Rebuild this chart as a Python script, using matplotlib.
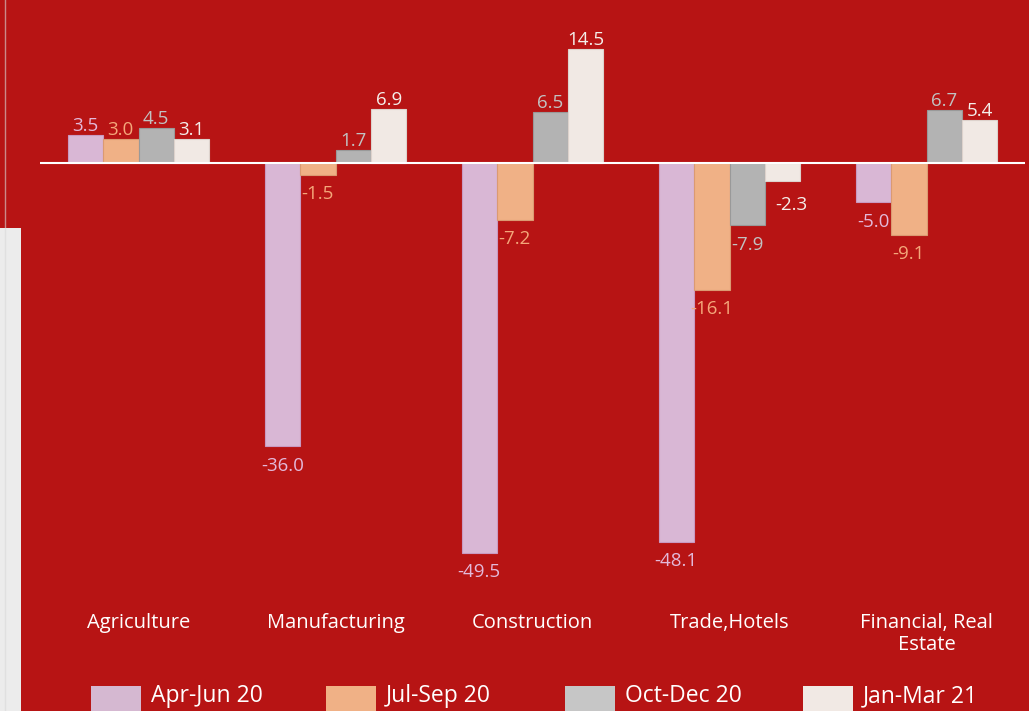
import numpy as np
import matplotlib.pyplot as plt
from matplotlib.patches import Rectangle

# Data
sectors = ["Agriculture", "Manufacturing", "Construction", "Trade,Hotels", "Financial, Real\nEstate"]
quarters = ["Apr-Jun 20", "Jul-Sep 20", "Oct-Dec 20", "Jan-Mar 21"]
apr_jun = [3.5, -36.0, -49.5, -48.1, -5.0]
jul_sep = [3.0, -1.5, -7.2, -16.1, -9.1]
oct_dec = [4.5, 1.7, 6.5, -7.9, 6.7]
jan_mar = [3.1, 6.9, 14.5, -2.3, 5.4]
series = [apr_jun, jul_sep, oct_dec, jan_mar]

BG = "#B71414"
colors = ["#D9B7D5", "#F0B186", "#B3B3B3", "#F1E9E4"]
edges = ["#C99AC2", "#DB9A72", "#999999", "#DDD2CC"]
legend_colors = ["#D5B8D1", "#F0B186", "#C6C6C6", "#F1E9E4"]
label_colors = ["#E3B9D9", "#F4A77A", "#C2C2C2", "#F4EEEA"]

plt.rcParams['font.family'] = ['Open Sans', 'DejaVu Sans']

fig = plt.figure(figsize=(10.29, 7.11), dpi=100, facecolor=BG)
ax = fig.add_axes([40 / 1029, 1 - 596 / 711, 985 / 1029, (596 - 21.3) / 711])
ax.set_facecolor(BG)

x = np.arange(len(sectors))
w = 0.18
for i, vals in enumerate(series):
    pos = x + (i - 1.5) * w
    ax.bar(pos, vals, width=w, color=colors[i], edgecolor=edges[i], linewidth=0.8, zorder=2)
    for px, v in zip(pos, vals):
        if v >= 0:
            ax.annotate(f"{v:.1f}", (px, v), xytext=(0, 0), textcoords="offset points",
                        ha="center", va="bottom", fontsize=13.5, color=label_colors[i])
        else:
            dx = 6 if (i == 3) else 0
            dy = -17 if (i == 3) else -14
            ax.annotate(f"{v:.1f}", (px, v), xytext=(dx, dy), textcoords="offset points",
                        ha="center", va="center", fontsize=13.5, color=label_colors[i])

ax.axhline(0, color="white", linewidth=1.5, zorder=3)
ax.set_xlim(-0.5, 4.5)
ax.set_ylim(-55, 18)
ax.set_yticks([])
ax.set_xticks(x)
ax.set_xticklabels(sectors, fontsize=14.5, color="white", linespacing=1.15)
ax.tick_params(axis="x", length=0, pad=12)
for s in ax.spines.values():
    s.set_visible(False)

# legend row (partly cut at bottom edge like the source)
leg_x = [91, 326, 565, 803]
for i, q in enumerate(quarters):
    fig.patches.append(Rectangle((leg_x[i] / 1029, 0), 50 / 1029, 25 / 711,
                                 transform=fig.transFigure, facecolor=legend_colors[i],
                                 edgecolor="none"))
    fig.text((leg_x[i] + 60) / 1029, 1 - 696 / 711, q, fontsize=16.5, color="white",
             va="center", ha="left")

# left page strip
fig.patches.append(Rectangle((0, 0), 21 / 1029, 1 - 228 / 711, transform=fig.transFigure,
                             facecolor="#ECECEC", edgecolor="none"))
fig.lines.append(plt.Line2D([4.5 / 1029, 4.5 / 1029], [0, 1], transform=fig.transFigure,
                            color="#D8D8D8", linewidth=1.0, alpha=0.6))

fig.savefig("out.png", dpi=100, facecolor=BG)
